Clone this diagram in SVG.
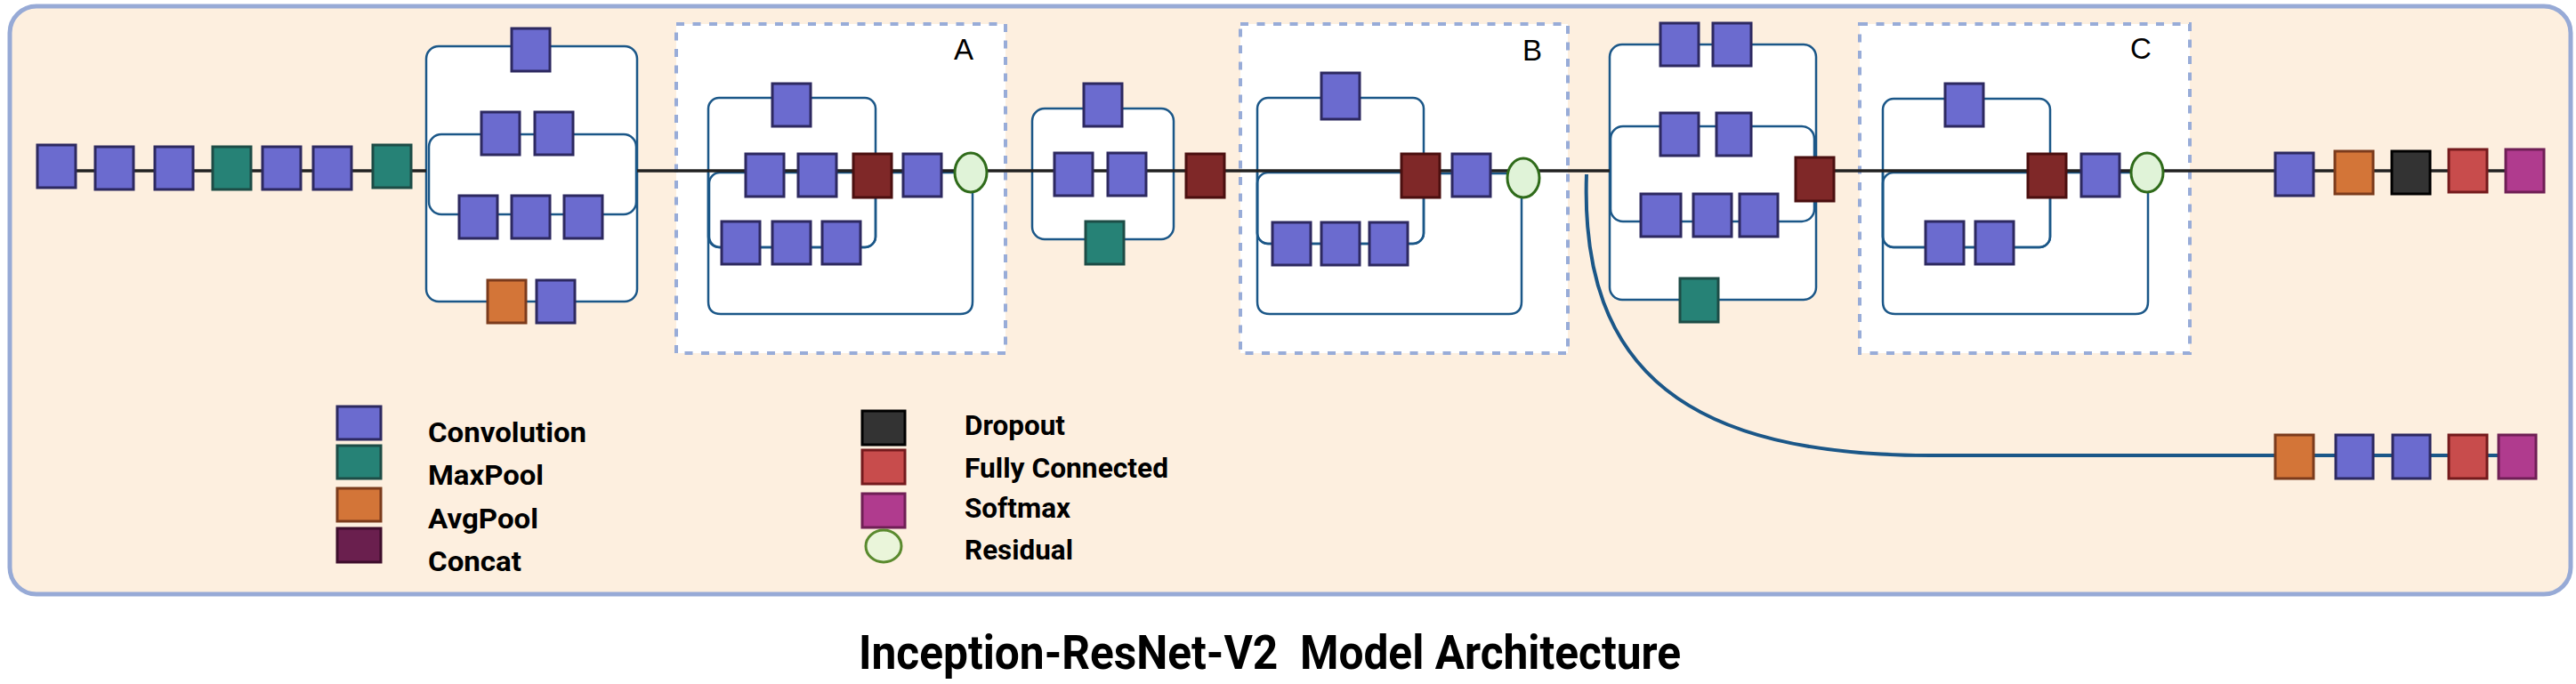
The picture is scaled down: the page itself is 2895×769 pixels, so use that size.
<svg xmlns="http://www.w3.org/2000/svg" width="2895" height="769" viewBox="0 0 2895 769">
<style>
.conv{fill:#6b6bcf;stroke:#2d2960;stroke-width:3}
.maxp{fill:#268276;stroke:#1d4c46;stroke-width:3}
.avgp{fill:#d37538;stroke:#7b3b1c;stroke-width:3}
.cat{fill:#7f2828;stroke:#4b0f0f;stroke-width:3}
.catl{fill:#6a1f4e;stroke:#3d0d2b;stroke-width:3}
.drop{fill:#333333;stroke:#000000;stroke-width:3}
.fc{fill:#c84c4c;stroke:#741a1d;stroke-width:3}
.soft{fill:#b03b8e;stroke:#6f1f55;stroke-width:3}
.res{fill:#e0f3d8;stroke:#2f6b1a;stroke-width:3}
.resl{fill:#eaf5da;stroke:#5a8a2e;stroke-width:3}
.blk{fill:#ffffff;stroke:#1b5788;stroke-width:2.5}
.br{fill:none;stroke:#1b5788;stroke-width:2.5}
.dash{fill:#ffffff;stroke:#98acd8;stroke-width:4;stroke-dasharray:9 9.5}
.main{fill:none;stroke:#222222;stroke-width:3.5}
.aux{fill:none;stroke:#1b5788;stroke-width:4}
.lbl{font-family:"Liberation Sans",Arial,sans-serif;font-size:33px;fill:#000}
.leg{font-family:Roboto,"Liberation Sans",sans-serif;font-weight:700;font-size:31px;fill:#000}
.title{font-family:Roboto,"Liberation Sans",sans-serif;font-weight:700;font-size:54px;fill:#000}
</style>

<g id="frame">
<rect x="11" y="7" width="2878" height="661" rx="30" ry="30" fill="#fdefdf" stroke="#97aad6" stroke-width="5"/>
</g>

<g id="blockA">
<rect class="dash" x="760" y="27" width="370" height="370"/>
<text class="lbl" x="1072" y="67">A</text>
</g>
<g id="blockB">
<rect class="dash" x="1394" y="27" width="368" height="370"/>
<text class="lbl" x="1711" y="68">B</text>
</g>
<g id="blockC">
<rect class="dash" x="2090" y="27" width="371" height="370"/>
<text class="lbl" x="2394" y="66">C</text>
</g>

<g id="connectors">
<!-- block containers -->
<rect class="blk" x="479" y="52" width="237" height="287" rx="14"/>
<rect class="br" x="482" y="151" width="233" height="90" rx="14"/>
<rect class="blk" x="1160" y="122" width="159" height="147" rx="14"/>
<rect class="blk" x="1809" y="50" width="232" height="287" rx="14"/>
<rect class="br" x="1810" y="142" width="229" height="107" rx="14"/>
<!-- block A branches -->
<rect class="br" x="796" y="110" width="188" height="168" rx="12"/>
<rect class="br" x="797" y="194" width="187" height="84" rx="12"/>
<path class="br" d="M796,194 V339 Q796,353 810,353 H1079 Q1093,353 1093,339 V216"/>
<path class="br" d="M984,194 H1073"/>
<!-- block B branches -->
<rect class="br" x="1413" y="110" width="187" height="164" rx="12"/>
<rect class="br" x="1413" y="194" width="187" height="80" rx="12"/>
<path class="br" d="M1413,194 V339 Q1413,353 1427,353 H1696 Q1710,353 1710,339 V222"/>
<path class="br" d="M1600,195 H1694"/>
<!-- block C branches -->
<rect class="br" x="2116" y="111" width="188" height="167" rx="12"/>
<rect class="br" x="2116" y="194" width="188" height="84" rx="12"/>
<path class="br" d="M2116,194 V339 Q2116,353 2130,353 H2400 Q2414,353 2414,339 V216"/>
<path class="br" d="M2304,194 H2395"/>
<!-- main line -->
<path class="main" d="M63,192 H479 M716,192 H1809 M2041,192 H2838"/>
<!-- auxiliary branch -->
<path class="aux" d="M1783,196 C1775,420 1900,512 2170,512"/>
<path class="aux" stroke-width="3.5" d="M2170,512 H2830"/>
</g>

<!-- stem -->
<g id="stem_conv1"><rect class="conv" x="42" y="163" width="43" height="48"/></g>
<g id="stem_conv2"><rect class="conv" x="107" y="165" width="43" height="48"/></g>
<g id="stem_conv3"><rect class="conv" x="174" y="165" width="43" height="48"/></g>
<g id="stem_pool1"><rect class="maxp" x="239" y="165" width="43" height="48"/></g>
<g id="stem_conv4"><rect class="conv" x="295" y="165" width="43" height="48"/></g>
<g id="stem_conv5"><rect class="conv" x="352" y="165" width="43" height="48"/></g>
<g id="stem_pool2"><rect class="maxp" x="419" y="163" width="43" height="48"/></g>

<!-- mixed block -->
<g id="mix_conv_a"><rect class="conv" x="575" y="32" width="43" height="48"/></g>
<g id="mix_conv_b1"><rect class="conv" x="541" y="126" width="43" height="48"/></g>
<g id="mix_conv_b2"><rect class="conv" x="601" y="126" width="43" height="48"/></g>
<g id="mix_conv_c1"><rect class="conv" x="516" y="220" width="43" height="48"/></g>
<g id="mix_conv_c2"><rect class="conv" x="575" y="220" width="43" height="48"/></g>
<g id="mix_conv_c3"><rect class="conv" x="634" y="220" width="43" height="48"/></g>
<g id="mix_avgpool"><rect class="avgp" x="548" y="315" width="43" height="48"/></g>
<g id="mix_conv_d"><rect class="conv" x="603" y="315" width="43" height="48"/></g>

<!-- block A -->
<g id="A_conv_top"><rect class="conv" x="868" y="94" width="43" height="48"/></g>
<g id="A_conv_m1"><rect class="conv" x="838" y="173" width="43" height="48"/></g>
<g id="A_conv_m2"><rect class="conv" x="897" y="173" width="43" height="48"/></g>
<g id="A_conv_b1"><rect class="conv" x="811" y="249" width="43" height="48"/></g>
<g id="A_conv_b2"><rect class="conv" x="868" y="249" width="43" height="48"/></g>
<g id="A_conv_b3"><rect class="conv" x="924" y="249" width="43" height="48"/></g>
<g id="A_concat"><rect class="cat" x="959" y="173" width="43" height="49"/></g>
<g id="A_conv_out"><rect class="conv" x="1015" y="173" width="43" height="48"/></g>
<g id="A_residual"><ellipse class="res" cx="1091" cy="194" rx="18" ry="22"/></g>

<!-- reduction A -->
<g id="RA_conv_top"><rect class="conv" x="1218" y="94" width="43" height="48"/></g>
<g id="RA_conv_m1"><rect class="conv" x="1185" y="172" width="43" height="48"/></g>
<g id="RA_conv_m2"><rect class="conv" x="1245" y="172" width="43" height="48"/></g>
<g id="RA_pool"><rect class="maxp" x="1220" y="249" width="43" height="48"/></g>
<g id="RA_concat"><rect class="cat" x="1333" y="173" width="43" height="49"/></g>

<!-- block B -->
<g id="B_conv_top"><rect class="conv" x="1485" y="82" width="43" height="52"/></g>
<g id="B_conv_b1"><rect class="conv" x="1430" y="250" width="43" height="48"/></g>
<g id="B_conv_b2"><rect class="conv" x="1485" y="250" width="43" height="48"/></g>
<g id="B_conv_b3"><rect class="conv" x="1539" y="250" width="43" height="48"/></g>
<g id="B_concat"><rect class="cat" x="1575" y="173" width="43" height="49"/></g>
<g id="B_conv_out"><rect class="conv" x="1632" y="173" width="43" height="48"/></g>
<g id="B_residual"><ellipse class="res" cx="1712" cy="200" rx="18" ry="22"/></g>

<!-- reduction B -->
<g id="RB_conv_a1"><rect class="conv" x="1866" y="26" width="43" height="48"/></g>
<g id="RB_conv_a2"><rect class="conv" x="1925" y="26" width="43" height="48"/></g>
<g id="RB_conv_b1"><rect class="conv" x="1866" y="127" width="43" height="48"/></g>
<g id="RB_conv_b2"><rect class="conv" x="1929" y="127" width="39" height="48"/></g>
<g id="RB_conv_c1"><rect class="conv" x="1844" y="218" width="45" height="48"/></g>
<g id="RB_conv_c2"><rect class="conv" x="1903" y="218" width="43" height="48"/></g>
<g id="RB_conv_c3"><rect class="conv" x="1955" y="218" width="43" height="48"/></g>
<g id="RB_pool"><rect class="maxp" x="1888" y="313" width="43" height="49"/></g>
<g id="RB_concat"><rect class="cat" x="2018" y="177" width="43" height="49"/></g>

<!-- block C -->
<g id="C_conv_top"><rect class="conv" x="2186" y="94" width="43" height="48"/></g>
<g id="C_conv_b1"><rect class="conv" x="2164" y="249" width="43" height="48"/></g>
<g id="C_conv_b2"><rect class="conv" x="2220" y="249" width="43" height="48"/></g>
<g id="C_concat"><rect class="cat" x="2279" y="173" width="43" height="49"/></g>
<g id="C_conv_out"><rect class="conv" x="2339" y="173" width="43" height="48"/></g>
<g id="C_residual"><ellipse class="res" cx="2413" cy="194" rx="18" ry="22"/></g>

<!-- head -->
<g id="head_conv"><rect class="conv" x="2557" y="172" width="43" height="48"/></g>
<g id="head_avgpool"><rect class="avgp" x="2624" y="170" width="43" height="48"/></g>
<g id="head_dropout"><rect class="drop" x="2688" y="170" width="43" height="48"/></g>
<g id="head_fc"><rect class="fc" x="2752" y="168" width="43" height="48"/></g>
<g id="head_softmax"><rect class="soft" x="2816" y="168" width="43" height="48"/></g>

<!-- auxiliary head -->
<g id="aux_avgpool"><rect class="avgp" x="2557" y="489" width="43" height="49"/></g>
<g id="aux_conv1"><rect class="conv" x="2625" y="489" width="42" height="49"/></g>
<g id="aux_conv2"><rect class="conv" x="2689" y="489" width="42" height="49"/></g>
<g id="aux_fc"><rect class="fc" x="2752" y="489" width="43" height="49"/></g>
<g id="aux_softmax"><rect class="soft" x="2808" y="489" width="42" height="49"/></g>

<!-- legend -->
<g id="legend">
<rect class="conv" x="379" y="457" width="49" height="37"/>
<rect class="maxp" x="379" y="501" width="49" height="37"/>
<rect class="avgp" x="379" y="549" width="49" height="37"/>
<rect class="catl" x="379" y="594" width="49" height="38"/>
<text class="leg" x="481" y="497" textLength="178" lengthAdjust="spacingAndGlyphs">Convolution</text>
<text class="leg" x="481" y="545" textLength="130" lengthAdjust="spacingAndGlyphs">MaxPool</text>
<text class="leg" x="481" y="594" textLength="124" lengthAdjust="spacingAndGlyphs">AvgPool</text>
<text class="leg" x="481" y="642" textLength="105" lengthAdjust="spacingAndGlyphs">Concat</text>
<rect class="drop" x="969" y="462" width="48" height="38"/>
<rect class="fc" x="969" y="506" width="48" height="38"/>
<rect class="soft" x="969" y="555" width="48" height="38"/>
<ellipse class="resl" cx="993" cy="614" rx="20" ry="18"/>
<text class="leg" x="1084" y="489" textLength="113" lengthAdjust="spacingAndGlyphs">Dropout</text>
<text class="leg" x="1084" y="537" textLength="229" lengthAdjust="spacingAndGlyphs">Fully Connected</text>
<text class="leg" x="1084" y="582" textLength="119" lengthAdjust="spacingAndGlyphs">Softmax</text>
<text class="leg" x="1084" y="629" textLength="122" lengthAdjust="spacingAndGlyphs">Residual</text>
</g>

<g id="title">
<text class="title" x="965" y="752" xml:space="preserve" textLength="924" lengthAdjust="spacingAndGlyphs">Inception-ResNet-V2  Model Architecture</text>
</g>
</svg>
